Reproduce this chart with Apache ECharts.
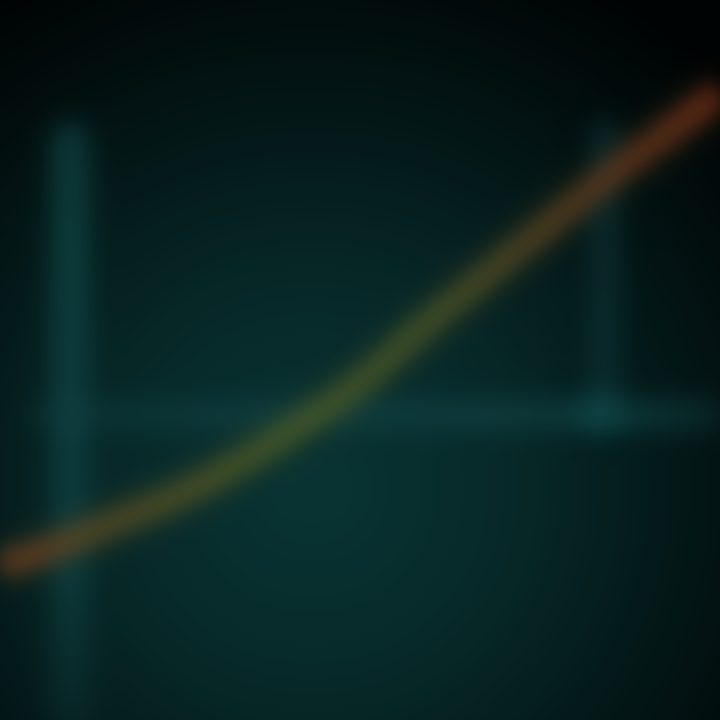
<!DOCTYPE html>
<html><head><meta charset="utf-8">
<script src="https://cdn.jsdelivr.net/npm/echarts@6/dist/echarts.min.js"></script>
<style>
html,body{margin:0;padding:0;width:720px;height:720px;overflow:hidden;background:#010404;}
#c{position:absolute;left:-40px;top:-40px;width:800px;height:800px;filter:blur(11px);}
</style></head><body>
<div id="c"></div>
<script>
// Glowing curve (x in 0..12, y in 0..100)
const curveX = [0,1,2,3,4,5,6,7,8,9,10,11,12];
const curveY = [21.5,24.3,27.8,31.3,35.8,41.0,46.9,54.2,61.1,67.8,74.6,80.8,87.2];
// Vertical glow bars and horizontal glow line
const leftBarX = [1.17,1.17];  const leftBarY = [0,80.5];
const rightBarX = [10.08,10.08]; const rightBarY = [42.5,81.5];
const hLineX = [0.5,12]; const hLineY = [42.4,42.4];
const glowX = [10.0]; const glowY = [42.6];

const zip = (a,b)=>a.map((v,i)=>[v,b[i]]);
const chart = echarts.init(document.getElementById('c'));
chart.setOption({
  backgroundColor:{type:'radial',x:0.44,y:0.66,r:0.72,colorStops:[
    {offset:0,color:'#093434'},{offset:0.35,color:'#072828'},{offset:0.7,color:'#031414'},{offset:1,color:'#000303'}]},
  grid:{left:40,right:40,top:40,bottom:40},
  xAxis:{type:'value',min:0,max:12,show:false},
  yAxis:{type:'value',min:0,max:100,show:false},
  series:[
    {type:'line',data:zip(leftBarX,leftBarY),symbol:'none',
     lineStyle:{width:36,color:{type:'linear',x:0,y:0,x2:0,y2:1,colorStops:[
        {offset:0,color:'rgba(16,70,70,0.55)'},{offset:0.2,color:'rgba(16,72,72,0.6)'},{offset:0.75,color:'rgba(16,66,68,0.55)'},{offset:1,color:'rgba(10,40,42,0.35)'}]},
       cap:'round',shadowBlur:30,shadowColor:'rgba(16,70,70,0.6)'}},
    {type:'line',data:zip(rightBarX,rightBarY),symbol:'none',
     lineStyle:{width:32,color:'rgba(18,58,62,0.4)',cap:'round',shadowBlur:30,shadowColor:'rgba(16,60,64,0.4)'}},
    {type:'line',data:zip(hLineX,hLineY),symbol:'none',
     lineStyle:{width:30,color:{type:'linear',x:0,y:0,x2:1,y2:0,colorStops:[
        {offset:0,color:'rgba(18,68,70,0.2)'},{offset:0.3,color:'rgba(18,68,70,0.4)'},{offset:0.85,color:'rgba(18,72,74,0.5)'},{offset:1,color:'rgba(18,60,62,0.3)'}]},
       shadowBlur:30,shadowColor:'rgba(16,70,72,0.4)'}},
    {type:'scatter',data:zip(glowX,glowY),symbolSize:44,
     itemStyle:{color:'rgba(14,80,80,0.6)',shadowBlur:30,shadowColor:'rgba(14,80,80,0.6)'}},
    {type:'line',data:zip(curveX,curveY),symbol:'none',smooth:true,
     lineStyle:{width:26,shadowBlur:30,shadowColor:'rgba(70,70,30,0.5)',opacity:0.8,
       color:{type:'linear',x:0,y:0,x2:1,y2:0,colorStops:[
         {offset:0,color:'#7a3a1c'},{offset:0.15,color:'#5a4a22'},{offset:0.4,color:'#4a5c26'},
         {offset:0.6,color:'#4a5426'},{offset:0.8,color:'#603a1c'},{offset:1,color:'#7a2a16'}]}}}
  ]
});
</script></body></html>
